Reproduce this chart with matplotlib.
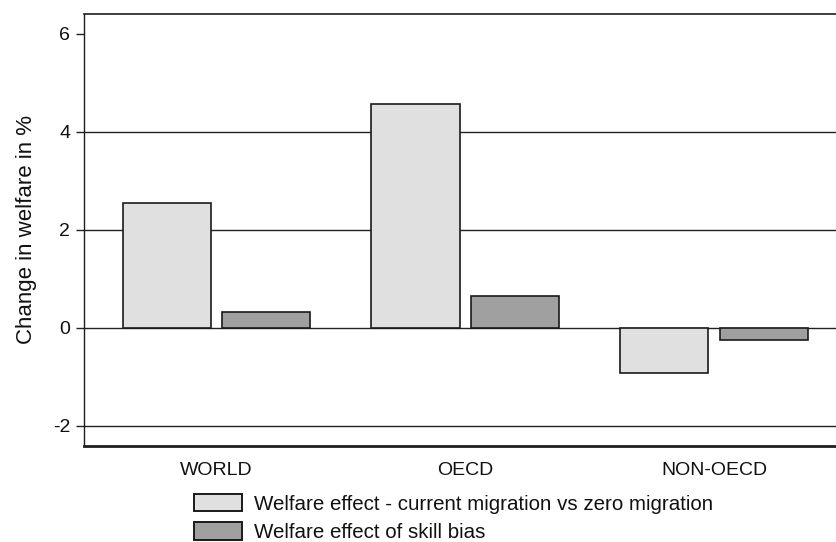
import matplotlib
matplotlib.use("Agg")
import matplotlib.pyplot as plt
import numpy as np

plt.rcParams['font.family'] = ['Liberation Sans', 'DejaVu Sans']

categories = ["WORLD", "OECD", "NON-OECD"]
series_names = ["Welfare effect - current migration vs zero migration",
                "Welfare effect of skill bias"]
current_vs_zero = [2.54, 4.56, -0.92]
skill_bias = [0.33, 0.64, -0.24]
yticks = [-2, 0, 2, 4, 6]
gridlines = [-2, 0, 2, 4]

W, H = 837, 542
fig = plt.figure(figsize=(W / 100, H / 100), dpi=100)
left, right, top, bottom = 84, 846.5, 13.5, 445.5
ax = fig.add_axes([left / W, 1 - bottom / H, (right - left) / W, (bottom - top) / H])

x = np.arange(len(categories))
bw = 0.355
off = 0.2
fs = 14

for g in gridlines:
    ax.axhline(g, color='#222222', lw=1.0, zorder=1)

ax.bar(x - off, current_vs_zero, width=bw, color='#e0e0e0', edgecolor='#1a1a1a',
       linewidth=1.2, label=series_names[0], zorder=2)
ax.bar(x + off, skill_bias, width=bw, color='#a0a0a0', edgecolor='#1a1a1a',
       linewidth=1.2, label=series_names[1], zorder=2)

ax.set_xlim(-0.533, 2.533)
ax.set_ylim(-2.40, 6.41)
ax.set_yticks(yticks)
ax.set_yticklabels([str(t) for t in yticks], fontsize=fs, color='#111111')
ax.set_xticks(x)
ax.set_xticklabels(categories, fontsize=fs, color='#111111')
ax.tick_params(axis='x', length=0, pad=12)
ax.tick_params(axis='y', length=6, width=1.0, pad=4, color='#222222')

ax.spines['right'].set_visible(False)
ax.spines['top'].set_linewidth(1.2)
ax.spines['left'].set_linewidth(1.0)
ax.spines['bottom'].set_linewidth(2.0)
for s in ax.spines.values():
    s.set_color('#1e1e1e')

ax.set_ylabel("Change in welfare in %", fontsize=16, color='#111111', labelpad=11)

lfs = 14.8
leg = fig.legend(loc='upper left', bbox_to_anchor=(194 / W, 1 - 494 / H),
                 frameon=False, fontsize=lfs, handlelength=2.35, handleheight=0.93,
                 handletextpad=0.55, labelspacing=0.42, borderpad=0, borderaxespad=0)
for t in leg.get_texts():
    t.set_color('#111111')
for p in leg.get_patches():
    p.set_linewidth(1.4)

fig.savefig("out.png", dpi=100)
